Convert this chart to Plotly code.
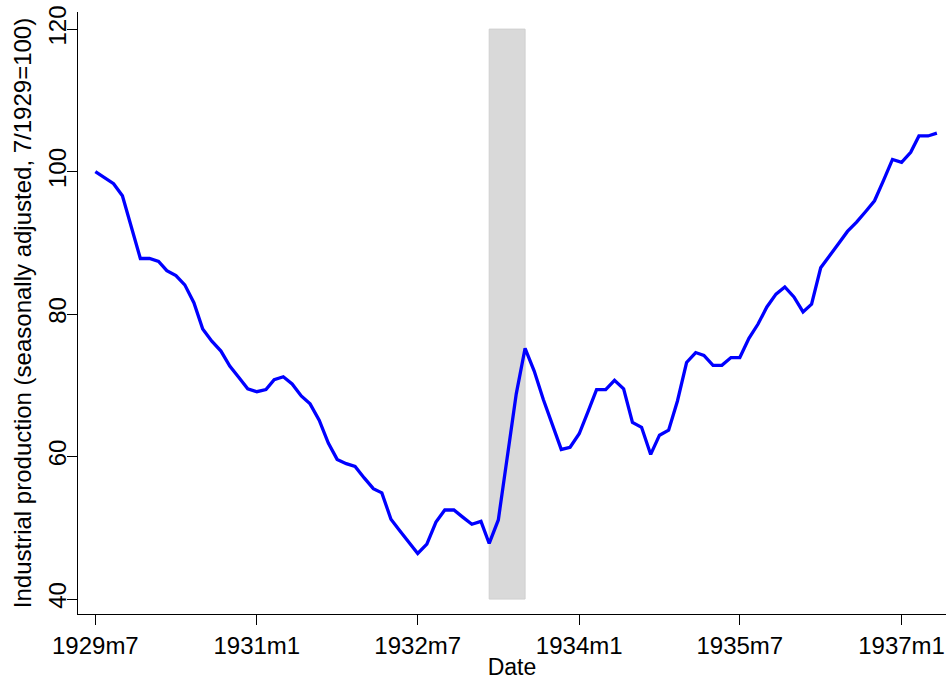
import pandas as pd
import plotly.graph_objects as go

# monthly industrial production index, 1929m7 = 100
ip = [100.0, 99.1, 98.3, 96.6, 92.1, 87.8, 87.8, 87.4, 86.1, 85.4,
      84.1, 81.6, 77.9, 76.2, 74.8, 72.7, 71.1, 69.5, 69.1, 69.4,
      70.8, 71.2, 70.2, 68.5, 67.4, 65.1, 61.9, 59.6, 59.0, 58.6,
      57.0, 55.5, 54.9, 51.2, 49.6, 47.9, 46.4, 47.7, 50.8, 52.5,
      52.5, 51.5, 50.5, 50.9, 47.8, 51.1, 59.9, 68.8, 75.2, 72.0,
      68.0, 64.6, 61.0, 61.3, 63.2, 66.4, 69.4, 69.4, 70.7, 69.5,
      64.8, 64.1, 60.3, 63.0, 63.7, 67.8, 73.2, 74.6, 74.2, 72.8,
      72.8, 73.9, 73.9, 76.6, 78.6, 81.0, 82.8, 83.8, 82.4, 80.3,
      81.4, 86.5, 88.1, 89.9, 91.6, 92.9, 94.4, 95.9, 98.8, 101.7,
      101.3, 102.7, 105.0, 105.0, 105.4]
start_month = "1929-07-01"
dates = pd.date_range(start_month, periods=len(ip), freq="MS")

tick_dates = ["1929-07-01", "1931-01-01", "1932-07-01", "1934-01-01", "1935-07-01", "1937-01-01"]
tick_text = ["1929m7", "1931m1", "1932m7", "1934m1", "1935m7", "1937m1"]
y_ticks = [40, 60, 80, 100, 120]

# banking holiday shading
shade_start, shade_end = "1933-03-01", "1933-07-01"
shade_lo, shade_hi = 40, 120

FONT = "Liberation Sans, Arial, Helvetica, sans-serif"

fig = go.Figure()
fig.add_shape(type="rect", xref="x", yref="y",
              x0=shade_start, x1=shade_end, y0=shade_lo, y1=shade_hi,
              fillcolor="#d9d9d9", line=dict(color="#cfcfcf", width=1),
              layer="below")
fig.add_trace(go.Scatter(x=dates, y=ip, mode="lines",
                         line=dict(color="#0000ff", width=3.3),
                         showlegend=False, hoverinfo="x+y"))

fig.update_layout(
    width=946, height=680,
    paper_bgcolor="white", plot_bgcolor="white",
    margin=dict(l=78, r=0, t=12, b=66),
    font=dict(family=FONT, size=23, color="black"),
    xaxis=dict(
        range=["1929-05-03", "1937-06-01"],
        tickvals=tick_dates, ticktext=tick_text,
        showgrid=False, zeroline=False,
        showline=True, linecolor="black", linewidth=1,
        ticks="outside", ticklen=10, tickcolor="black",
        tickfont=dict(size=24),
        title=dict(text="Date", font=dict(size=23), standoff=2),
        automargin=False,
    ),
    yaxis=dict(
        range=[37.9, 122.4],
        tickvals=y_ticks,
        tickangle=-90,
        ticklabelstandoff=-9,
        showgrid=False, zeroline=False,
        showline=True, linecolor="black", linewidth=1,
        ticks="outside", ticklen=10, tickcolor="black",
        tickfont=dict(size=24),
        title=dict(text="Industrial production (seasonally adjusted, 7/1929=100)",
                   font=dict(size=24), standoff=6),
        automargin=False,
    ),
)

# page body has a default 8px margin; drop it so the chart sits at 0,0
fig.write_html("out.html", config={"displayModeBar": False},
               post_script="document.body.style.margin='0px';")
